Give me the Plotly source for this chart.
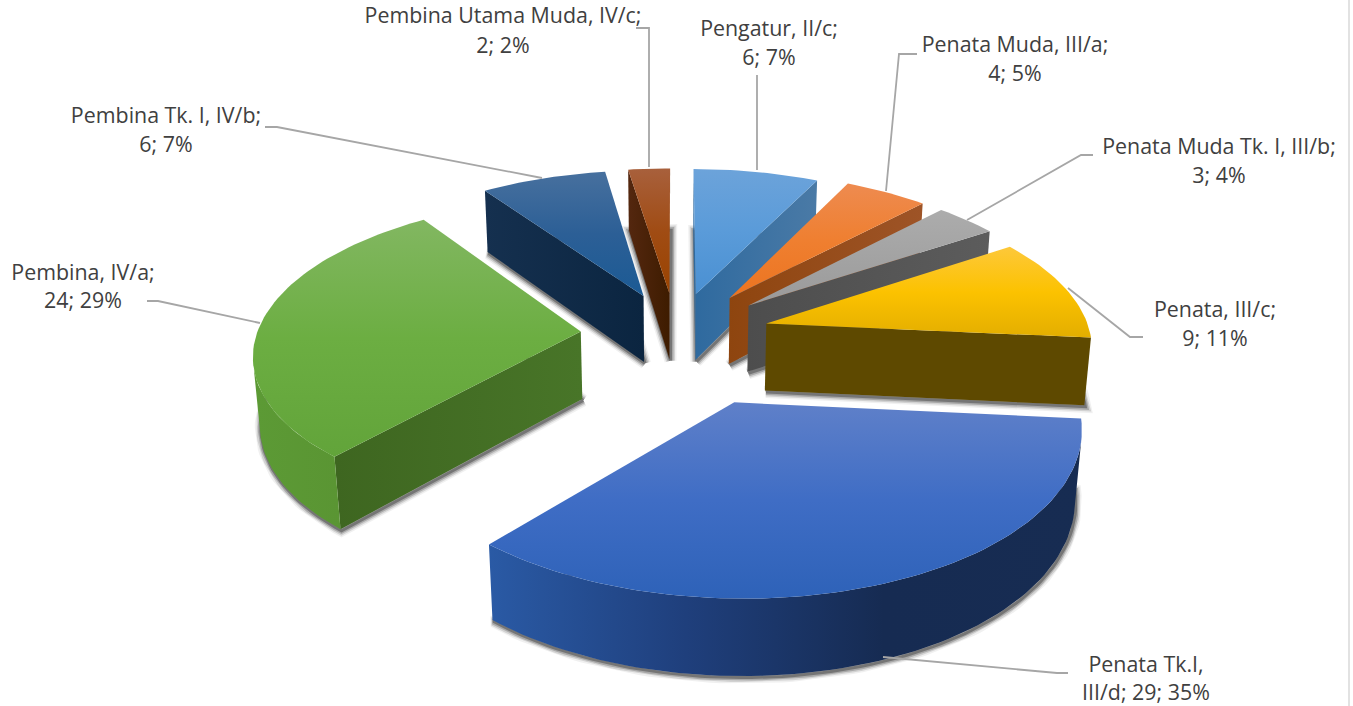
import math
import plotly.graph_objects as go

# ---- data ----
categories = ["Pengatur, II/c", "Penata Muda, III/a", "Penata Muda Tk. I, III/b", "Penata, III/c",
              "Penata Tk.I, III/d", "Pembina, IV/a", "Pembina Tk. I, IV/b", "Pembina Utama Muda, IV/c"]
values = [6, 4, 3, 9, 29, 24, 6, 2]
percents = [7, 5, 4, 11, 35, 29, 7, 2]
pull = [0.28, 0.30, 0.30, 0.29, 0.46, 0.295, 0.28, 0.28]

# ---- label text layout (first line, second line) ----
label_lines = [
    ("Pengatur, II/c;", "6; 7%"),
    ("Penata Muda, III/a;", "4; 5%"),
    ("Penata Muda Tk. I, III/b;", "3; 4%"),
    ("Penata, III/c;", "9; 11%"),
    ("Penata Tk.I,", "III/d; 29; 35%"),
    ("Pembina, IV/a;", "24; 29%"),
    ("Pembina Tk. I, IV/b;", "6; 7%"),
    ("Pembina Utama Muda, IV/c;", "2; 2%"),
]
label_xy = [(769, 31, 60), (1015, 47, 76), (1219, 149, 178), (1215, 312, 341),
            (1146, 667, 695), (83, 275, 303), (166, 118, 147), (503, 18, 48)]
leaders = [
    [(757, 75), (757, 170)],
    [(917, 54), (899, 54), (886, 191)],
    [(1093, 155), (1081, 155), (967, 220)],
    [(1068, 288), (1130, 337), (1143, 337)],
    [(883, 657), (1057, 673), (1068, 673)],
    [(147, 301), (158, 301), (260, 323)],
    [(265, 127), (277, 127), (542, 178)],
    [(636, 28), (649, 28), (649, 167)],
]

# ---- style per slice ----
top_grad = [
    ["#6CA3DA", "#5A9BD9", "#4A90D2"],
    ["#EE8B50", "#EF7F30", "#EC7420"],
    ["#ACACAC", "#A3A3A3", "#9A9A9A"],
    ["#FDC83A", "#FCC200", "#E3AE00"],
    ["#5F80C9", "#3F6DC5", "#2E62B8"],
    ["#82B761", "#6CAE42", "#62A43A"],
    ["#47709E", "#2C5F96", "#1B5A94"],
    ["#A8603C", "#A04C14", "#9A4300"],
]
outer_grad = [
    ["#2F6A9F", "#4A7AA6"],
    ["#8E450F", "#9E5427"],
    ["#4D4D4D", "#5C5C5C"],
    ["#5E4900", "#5E4900"],
    ["#2A5AA5", "#1F3F7C", "#162B52", "#172C52"],
    ["#5C9A35", "#5A9533"],
    ["#15304F", "#0B2540"],
    ["#54270F", "#3E1C00"],
]
start_face = [
    ["#2F6A9F", "#2F6A9F"], ["#8E450F", "#9E5427"], ["#4D4D4D", "#5C5C5C"], ["#5E4900", "#5E4900"],
    ["#162B52", "#162B52"], ["#3E6620", "#487528"], ["#15304F", "#0B2540"], ["#54270F", "#3E1C00"],
]
end_face = [
    ["#2F6A9F", "#4A7AA6"], ["#8E450F", "#9E5427"], ["#4D4D4D", "#5C5C5C"], ["#5E4900", "#5E4900"],
    ["#1F3F7C", "#162B52"], ["#3E6620", "#487528"], ["#15304F", "#0B2540"], ["#54270F", "#3E1C00"],
]
paint_order = [7, 6, 0, 1, 2, 3, 5, 4]

# ---- projection of the tilted pie onto the page ----
CX, CY = 676.0, 334.0
SX, SY, SZ = 324.0, 151.0, 292.0
PERSP_Y, PERSP_Z = 0.13, 0.069
HEIGHT = 0.235
CAM_Y = -5.87


def project(gx, gy, gz=0.0):
    w = 1 + PERSP_Y * gy - PERSP_Z * gz
    return CX + SX * gx / w, CY - (SY * gy + SZ * gz) / w


total = sum(values)
fig = go.Figure()


def scale(cols, kind):
    n = len(cols) - 1
    ordered = cols[::-1] if kind == "vertical" else cols
    return [[k / n, c] for k, c in enumerate(ordered)]


def poly(pts, cols, kind):
    fig.add_trace(go.Scatter(
        x=[p[0] for p in pts] + [pts[0][0]], y=[p[1] for p in pts] + [pts[0][1]],
        mode="lines", line=dict(width=0), fill="toself",
        fillgradient=dict(type=kind, colorscale=scale(cols, kind)),
        hoverinfo="skip", showlegend=False))


def extrude(ground):
    top = [project(a, b, 0) for a, b in ground]
    bot = [project(a, b, -HEIGHT) for a, b in ground]
    return top + bot[::-1]


cum = [0.0]
for v in values:
    cum.append(cum[-1] + v / total * 2 * math.pi)

for i in paint_order:
    a0, a1 = cum[i], cum[i + 1]
    mid = (a0 + a1) / 2
    ox, oy = pull[i] * math.sin(mid), pull[i] * math.cos(mid)
    n = max(8, int((a1 - a0) / math.radians(1.5)))
    angles = [a0 + (a1 - a0) * k / n for k in range(n + 1)]
    rim = [(ox + math.sin(t), oy + math.cos(t)) for t in angles]
    apex = (ox, oy)

    # soft shadow from the underside
    under = [project(apex[0], apex[1], -HEIGHT)] + [project(p[0], p[1], -HEIGHT) for p in rim]
    under.append(under[0])
    for width, alpha in [(12, 0.06), (9, 0.12), (6, 0.20), (3, 0.30)]:
        fig.add_trace(go.Scatter(
            x=[p[0] + 1 for p in under], y=[p[1] + 1.5 for p in under], mode="lines",
            line=dict(width=width, color=f"rgba(0,0,0,{alpha})"),
            hoverinfo="skip", showlegend=False))

    # cut faces, when they look toward the camera
    n0 = (math.sin(a0 - math.pi / 2), math.cos(a0 - math.pi / 2))
    if n0[0] * (0 - apex[0]) + n0[1] * (CAM_Y - apex[1]) > 0:
        poly(extrude([apex, rim[0]]), start_face[i], "horizontal")
    n1 = (math.sin(a1 + math.pi / 2), math.cos(a1 + math.pi / 2))
    if n1[0] * (0 - apex[0]) + n1[1] * (CAM_Y - apex[1]) > 0:
        poly(extrude([apex, rim[-1]]), end_face[i], "horizontal")

    # rim, only the part that faces the camera
    seen = [p for p, t in zip(rim, angles)
            if math.sin(t) * (0 - p[0]) + math.cos(t) * (CAM_Y - p[1]) > 0]
    if len(seen) > 1:
        poly(extrude(seen), outer_grad[i], "horizontal")

    # top face
    poly([project(*apex)] + [project(*p) for p in rim], top_grad[i], "vertical")

# leader lines
for path in leaders:
    fig.add_trace(go.Scatter(x=[p[0] for p in path], y=[p[1] for p in path], mode="lines",
                             line=dict(width=1.8, color="#A6A6A6"),
                             hoverinfo="skip", showlegend=False))

# labels
for (l1, l2), (lx, y1, y2) in zip(label_lines, label_xy):
    fig.add_trace(go.Scatter(x=[lx, lx], y=[y1, y2], mode="text", text=[l1, l2],
                             textposition="middle center",
                             textfont=dict(family="Open Sans", size=21.4, color="#404040"),
                             hoverinfo="skip", showlegend=False))

fig.update_layout(
    width=1353, height=706, margin=dict(l=0, r=0, t=0, b=0),
    paper_bgcolor="white", plot_bgcolor="white", showlegend=False,
    xaxis=dict(range=[0, 1353], visible=False, fixedrange=True),
    yaxis=dict(range=[706, 0], visible=False, fixedrange=True),
    shapes=[dict(type="line", x0=1349, x1=1349, y0=0, y1=706, xref="x", yref="y",
                 line=dict(color="#E2E2E2", width=2))],
)
fig.write_html("out.html", config={"displayModeBar": False},
               post_script="document.body.style.margin='0';document.documentElement.style.overflow='hidden';")
